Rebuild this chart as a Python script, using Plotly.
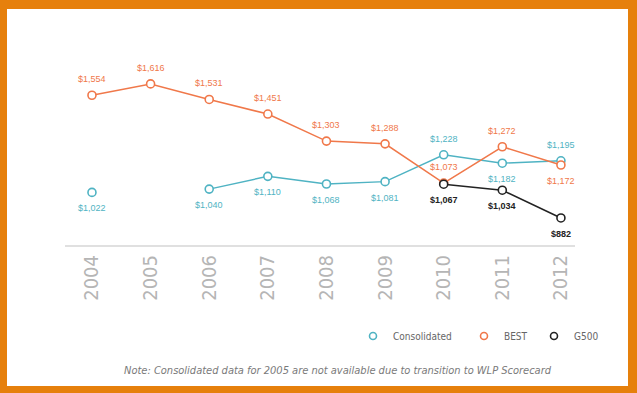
import plotly.graph_objects as go

years = [2004, 2005, 2006, 2007, 2008, 2009, 2010, 2011, 2012]
consolidated = [1022, None, 1040, 1110, 1068, 1081, 1228, 1182, 1195]
best = [1554, 1616, 1531, 1451, 1303, 1288, 1073, 1272, 1172]
g500 = [None, None, None, None, None, None, 1067, 1034, 882]
series_names = ["Consolidated", "BEST", "G500"]

# label placement: +1 above, -1 below
cons_pos = [-1, 0, -1, -1, -1, -1, 1, -1, 1]
best_pos = [1, 1, 1, 1, 1, 1, 1, 1, -1]
g500_pos = [0, 0, 0, 0, 0, 0, -1, -1, -1]

C_CONS = "#4fb3c3"
C_BEST = "#f0784a"
C_G500 = "#222222"
ORANGE = "#e6800c"
NARROW = "Liberation Sans Narrow, DejaVu Sans Condensed, Arial Narrow, sans-serif"

W, H = 637, 393
L, R, T, B = 65, 62, 60, 148
pw, ph = W - L - R, H - T - B

def px_to_paper(xp, yp):
    return (xp - L) / pw, (H - B - yp) / ph

fig = go.Figure()

legend_x = {"legend": 353, "legend2": 464, "legend3": 534}

def add_series(name, vals, color, legend):
    fig.add_trace(go.Scatter(
        x=years, y=vals, name=name, mode="lines+markers",
        connectgaps=False, showlegend=False,
        line=dict(color=color, width=1.5),
        marker=dict(symbol="circle", size=8, color="white",
                    line=dict(color=color, width=1.6)),
    ))
    # legend proxy (marker only)
    fig.add_trace(go.Scatter(
        x=[None], y=[None], name=name, mode="markers", showlegend=True,
        marker=dict(symbol="circle", size=7, color="white",
                    line=dict(color=color, width=1.6)),
        legend=legend,
    ))

add_series(series_names[0], consolidated, C_CONS, "legend")
add_series(series_names[1], best, C_BEST, "legend2")
add_series(series_names[2], g500, C_G500, "legend3")

annotations = []
for vals, pos, color, bold in [(consolidated, cons_pos, C_CONS, False),
                               (best, best_pos, C_BEST, False),
                               (g500, g500_pos, C_G500, True)]:
    for x, v, p in zip(years, vals, pos):
        if v is None or p == 0:
            continue
        txt = f"${v:,}"
        if bold:
            txt = f"<b>{txt}</b>"
        annotations.append(dict(
            x=x, y=v, xref="x", yref="y", text=txt, showarrow=False,
            yshift=16 * p, font=dict(family="Arial, Liberation Sans", size=9, color=color),
        ))

nx, ny = px_to_paper(338, 370)
annotations.append(dict(
    x=nx, y=ny, xref="paper", yref="paper", showarrow=False,
    text="<i>Note: Consolidated data for 2005 are not available due to transition to WLP Scorecard</i>",
    font=dict(family=NARROW, size=11, color="#7a7a7a"), xanchor="center", yanchor="middle",
))

x0, y1 = px_to_paper(7, 9)
x1, y0 = px_to_paper(628, 386)

legend_common = dict(xref="container", yref="container", y=1 - 336 / H,
                     xanchor="left", yanchor="middle", orientation="h",
                     font=dict(family=NARROW, size=10, color="#666"),
                     bgcolor="rgba(0,0,0,0)", itemwidth=30)

fig.update_layout(
    width=W, height=H,
    margin=dict(l=L, r=R, t=T, b=B, autoexpand=False),
    paper_bgcolor=ORANGE,
    plot_bgcolor="rgba(0,0,0,0)",
    shapes=[dict(type="rect", xref="paper", yref="paper", x0=x0, x1=x1, y0=y0, y1=y1,
                 fillcolor="white", line=dict(width=0), layer="below")],
    annotations=annotations,
    xaxis=dict(range=[2003.54, 2012.24], tickmode="array", tickvals=years,
               ticktext=[str(y) for y in years], tickangle=-90, automargin=False,
               showgrid=False, zeroline=False, showline=True, linecolor="#e0e0e0",
               linewidth=2, ticks="",
               tickfont=dict(family=NARROW, size=20, color="#b5b5b5")),
    yaxis=dict(range=[734, 1747], showgrid=False, zeroline=False, showticklabels=False,
               showline=False, automargin=False),
    showlegend=True,
    legend=dict(x=legend_x["legend"] / W, **legend_common),
    legend2=dict(x=legend_x["legend2"] / W, **legend_common),
    legend3=dict(x=legend_x["legend3"] / W, **legend_common),
)

fig.write_html("out.html", config={"displayModeBar": False},
               post_script="document.body.style.margin='0';document.body.style.padding='0';")
